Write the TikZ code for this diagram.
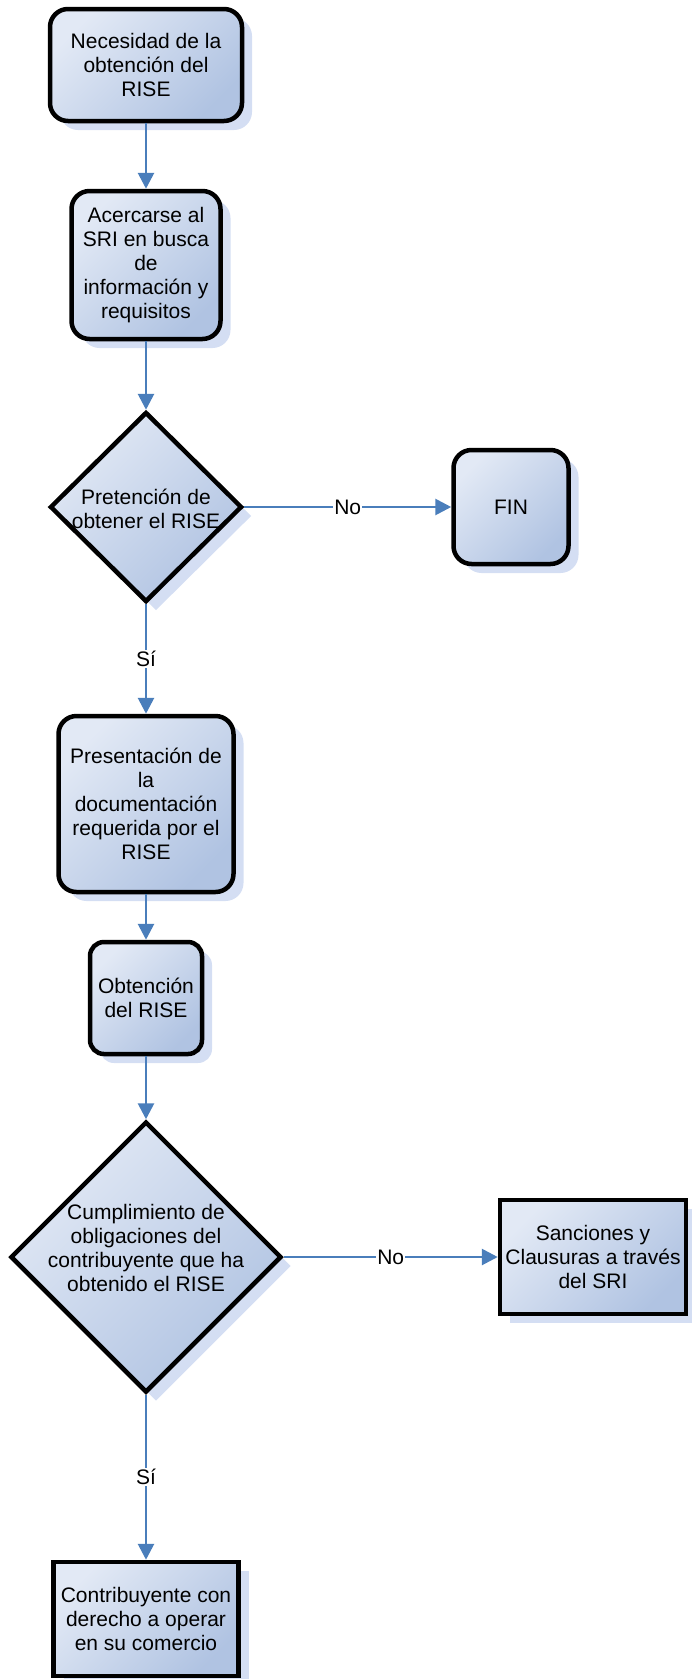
\documentclass[tikz,border=0pt]{standalone}
\usepackage{fontspec}
\setmainfont{Liberation Sans}
\usetikzlibrary{shapes.geometric,arrows.meta,shadows}
\definecolor{lightfill}{RGB}{226,233,245}
\definecolor{darkfill}{RGB}{176,195,226}
\definecolor{shadowc}{RGB}{212,222,243}
\definecolor{conn}{RGB}{74,126,187}
\tikzset{
  base/.style={draw=black, line width=4.5pt, top color=lightfill, bottom color=darkfill, shading angle=45,
    drop shadow={shadow xshift=10pt, shadow yshift=-9pt, fill=shadowc, opacity=1},
    align=center, font=\fontsize{21}{24}\selectfont, inner sep=0pt},
  rbox/.style={base, rectangle, rounded corners=18pt},
  sbox/.style={base, rectangle},
  dia/.style={base, diamond, aspect=1},
  txt/.style={align=center, font=\fontsize{21}{24}\selectfont, inner sep=0pt},
  conn/.style={draw=conn, line width=2.8pt, -{Triangle[length=16pt,width=16pt]}},
  lab/.style={fill=white, inner sep=1pt, font=\fontsize{21}{24}\selectfont}
}
\begin{document}
\begin{tikzpicture}[x=1pt,y=-1pt]
\useasboundingbox (0,0) rectangle (692,1679);
\node[rbox, minimum width=192pt, minimum height=112pt] (b1) at (146,65) {Necesidad de la\\obtención del\\RISE};
\node[rbox, minimum width=149pt, minimum height=148pt] (b2) at (146,265) {Acercarse al\\SRI en busca\\de\\información y\\requisitos};
\node[dia, minimum width=192pt, minimum height=190pt] (d1) at (146,507) {};
\node[txt] (d1t) at (146,509) {Pretención de\\obtener el RISE};
\node[rbox, minimum width=115pt, minimum height=114pt] (fin) at (511,507) {FIN};
\node[rbox, minimum width=175pt, minimum height=176pt] (b3) at (146,804) {Presentación de\\la\\documentación\\requerida por el\\RISE};
\node[rbox, rounded corners=14pt, minimum width=112pt, minimum height=112pt] (b4) at (146,998) {Obtención\\del RISE};
\node[dia, minimum width=271pt, minimum height=271pt] (d2) at (146,1257) {};
\node[txt] (d2t) at (146,1248) {Cumplimiento de\\obligaciones del\\contribuyente que ha\\obtenido el RISE};
\node[sbox, minimum width=186pt, minimum height=114pt] (san) at (593,1257) {Sanciones y\\Clausuras a través\\del SRI};
\node[sbox, minimum width=185pt, minimum height=114pt] (b6) at (146,1619) {Contribuyente con\\derecho a operar\\en su comercio};

\draw[conn] (b1.south) -- (b2.north);
\draw[conn] (b2.south) -- (d1.north);
\draw[conn] (d1.east) -- node[lab] {No} (fin.west);
\draw[conn] (d1.south) -- node[lab] {Sí} (b3.north);
\draw[conn] (b3.south) -- (b4.north);
\draw[conn] (b4.south) -- (d2.north);
\draw[conn] (d2.east) -- node[lab] {No} (san.west);
\draw[conn] (d2.south) -- node[lab] {Sí} (b6.north);
\end{tikzpicture}
\end{document}
